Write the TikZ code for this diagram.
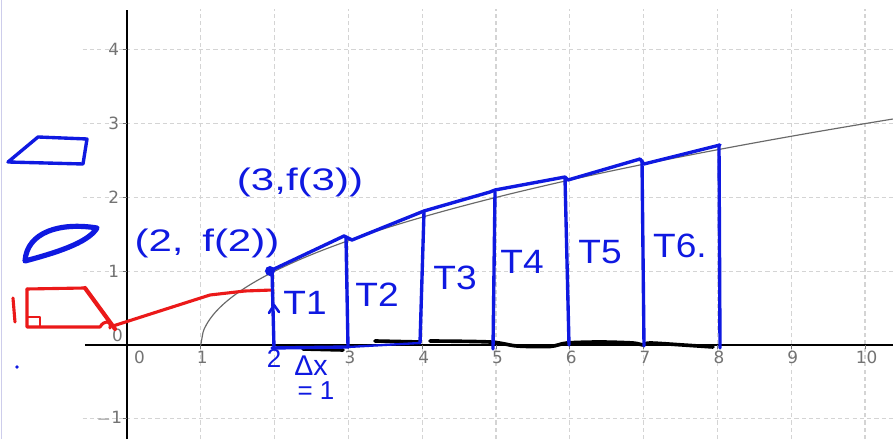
\documentclass[tikz,border=0pt]{standalone}
\usepackage{fontspec}
\setmainfont{Liberation Sans}
\newfontfamily\tickfont{DejaVu Sans}
\definecolor{inkblue}{RGB}{15,25,225}
\definecolor{inkred}{RGB}{235,25,25}
\definecolor{gridgray}{RGB}{212,212,212}
\definecolor{ticktext}{RGB}{115,115,115}
\definecolor{edgelav}{RGB}{205,205,235}
\begin{document}
\begin{tikzpicture}[
  gridline/.style={draw=gridgray, line width=0.45pt, dash pattern=on 1.6pt off 1.2pt},
  axisline/.style={draw=black, line width=0.8pt},
  ticklab/.style={font=\tickfont\fontsize{6.5}{7}\selectfont, text=ticktext, inner sep=0pt},
  blueink/.style={draw=inkblue, line width=1.3pt, line cap=round, line join=round},
  redink/.style={draw=inkred, line width=1.2pt, line cap=round, line join=round},
  blackink/.style={draw=black, line width=1.4pt, line cap=round, line join=round},
  hand/.style={text=inkblue, inner sep=0pt, font=\fontsize{12}{14}\selectfont},
  tlab/.style={text=inkblue, inner sep=0pt, font=\fontsize{13}{15}\selectfont, xscale=1.1, transform shape}
]
\useasboundingbox[fill=white] (-1.721,-1.274) rectangle (10.379,4.675);
% left edge line
\draw[edgelav, line width=0.6pt] (-1.70,-1.274) -- (-1.70,4.675);
% grid
\foreach \gx in {1,...,10} \draw[gridline] (\gx,-1.274) -- (\gx,4.55);
\foreach \gy in {-1,1,2,3,4} \draw[gridline] (-0.6,\gy) -- (10.379,\gy);
% axes
\draw[axisline] (-0.57,0) -- (10.379,0);
\draw[axisline] (0,-1.274) -- (0,4.54);
% ticks
\foreach \gx in {1,...,10} \draw[ticktext, line width=0.4pt] (\gx,0) -- (\gx,-0.05);
\foreach \gy in {-1,1,2,3,4} \draw[ticktext, line width=0.4pt] (0,\gy) -- (-0.06,\gy);
\foreach \gx in {1,3,4,5,6,7,8,9,10} \node[ticklab] (xl\gx) at (\gx+0.02,-0.17) {\gx};
\node[ticklab] (xl0) at (0.17,-0.17) {0};
\foreach \gy in {1,2,3,4} \node[ticklab] (yl\gy) at (-0.18,\gy) {\gy};
\node[ticklab] (yl0) at (-0.13,0.13) {0};
\node[ticklab] (ylm) at (-0.24,-1) {$-$1};
% curve
\draw[draw={rgb,255:red,105;green,105;blue,105}, line width=0.45pt] plot[domain=1:10.379, samples=300, smooth] (\x,{sqrt(\x-1)});

\begin{scope}[shift={(-1.721,4.675)}, x=0.013550cm, y=-0.013550cm]
  % blue trapezoid icon
  \draw[blueink] (8,162) -- (38,137) -- (87,139) -- (83,164) -- cycle;
  % blue lens icon
  \draw[blueink, line width=2pt] (25,261) .. controls (27,232) and (60,222) .. (97,228)
        .. controls (88,243) and (55,253) .. (25,261) -- cycle;
  % small blue dot
  \fill[inkblue] (17,367) circle (1.8);
  % red 1 and box
  \draw[redink] (13,298) -- (15,322);
  \draw[redink] (27,289) -- (85,288);
  \draw[redink, line width=1.6pt] (85,288) -- (115,329);
  \draw[redink] (27,289) -- (27,327) -- (100,327) .. controls (104,320) and (112,320) .. (110,328);
  \draw[redink, line width=1.0pt] (28,317) -- (40,317) -- (40,326);
  \draw[redink] (113,326) -- (163,310) -- (210,295) -- (245,291) -- (273,290);
  % black scribbles on x-axis
  \draw[blackink] (303,349) -- (343,350);
  \draw[blackink] (375,341) -- (420,342);
  \draw[blackink] plot[smooth] coordinates {(430,341) (490,342) (517,346) (550,346.5) (567,343) (600,342) (633,343) (643,345) (650,343) (683,345) (713,347)};
  % blue bottom
  \draw[blueink] (272,348) -- (348,347);
  \draw[blueink, line width=0.9pt] (348,347) -- (420,343);
  % blue top polyline
  \draw[blueink] (272,270) -- (344,236) -- (352,240) -- (424,211) -- (490,192) -- (495,190)
        -- (565,177) -- (568,180) -- (640,159) -- (644,164) -- (720,145);
  % verticals
  \draw[blueink] (272,270) -- (274,348);
  \draw[blueink] (346,238) -- (348,347);
  \draw[blueink] (424,212) -- (420,343);
  \draw[blueink] (495,192) -- (493,349);
  \draw[blueink] (565,178) -- (569,345);
  \draw[blueink] (642,161) -- (644,346);
  \draw[blueink] (719,145) -- (720,348);
  % caret
  \draw[blueink, line width=1.0pt] (269,313) -- (274,305) -- (279,312);
  % point dot
  \fill[inkblue] (270,271) circle (5);
  % labels
  \node[hand, xscale=1.35, transform shape] (p2) at (207,243) {(2,\, f(2))};
  \node[hand, xscale=1.35, transform shape] (p3) at (300,182) {(3,f(3))};
  \node[tlab] (t1) at (305,303) {T1};
  \node[tlab] (t2) at (377,295) {T2};
  \node[tlab] (t3) at (455,278) {T3};
  \node[tlab] (t4) at (522,262) {T4};
  \node[tlab] (t5) at (600,252) {T5};
  \node[tlab] (t6) at (680,246) {T6.};
  \node[hand, font=\fontsize{10}{11}\selectfont] (two) at (274,358) {2};
  \node[hand, font=\fontsize{11}{12}\selectfont] (dx) at (311,366) {Δx};
  \node[hand, font=\fontsize{10}{11}\selectfont] (eq) at (316,391) {= 1};
\end{scope}
\end{tikzpicture}
\end{document}
